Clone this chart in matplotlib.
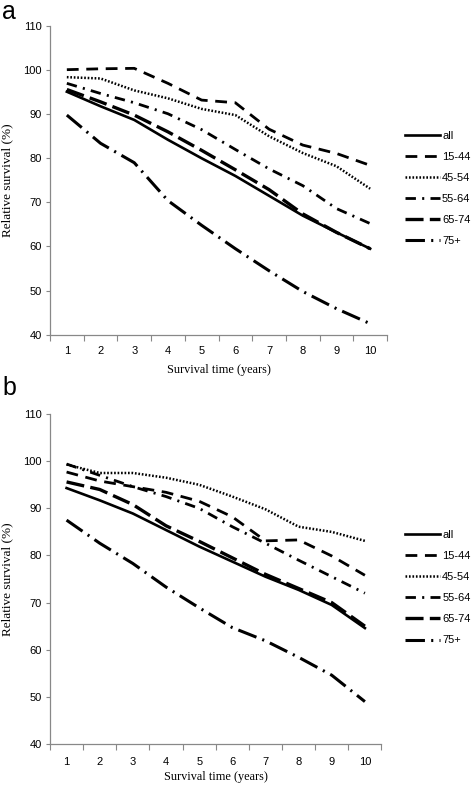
import numpy as np
import matplotlib
matplotlib.use('Agg')
import matplotlib.pyplot as plt

plt.rcParams['font.family'] = ['Liberation Sans', 'DejaVu Sans']
plt.rcParams['lines.scale_dashes'] = False

years = [1, 2, 3, 4, 5, 6, 7, 8, 9, 10]
groups = ['all', '15-44', '45-54', '55-64', '65-74', '75+']

# panel a
a_all = [95.1, 91.8, 88.7, 84.2, 80.0, 76.0, 71.5, 67.0, 63.2, 59.5]
a_15_44 = [100.1, 100.3, 100.4, 97.0, 93.2, 92.6, 86.6, 83.0, 81.1, 78.4]
a_45_54 = [98.4, 98.1, 95.4, 93.6, 91.2, 89.8, 85.0, 81.2, 78.2, 73.1]
a_55_64 = [97.0, 94.7, 92.6, 90.1, 86.5, 82.0, 77.6, 73.8, 68.6, 65.2]
a_65_74 = [95.6, 92.8, 89.8, 86.0, 81.8, 77.4, 72.9, 67.4, 63.2, 59.5]
a_75 = [89.8, 83.4, 79.0, 70.4, 64.8, 59.5, 54.5, 49.8, 45.9, 42.5]

# panel b
b_all = [94.3, 91.7, 88.9, 85.4, 81.9, 78.7, 75.5, 72.7, 69.5, 64.6]
b_15_44 = [97.7, 95.8, 94.6, 93.4, 91.5, 88.2, 83.1, 83.3, 79.9, 75.8]
b_45_54 = [99.3, 97.5, 97.5, 96.5, 95.0, 92.5, 89.8, 86.1, 85.0, 83.1]
b_55_64 = [99.4, 97.0, 94.6, 92.5, 90.0, 86.1, 82.6, 79.0, 75.5, 72.0]
b_65_74 = [95.6, 94.0, 90.8, 86.3, 83.0, 79.5, 76.0, 73.0, 70.0, 65.0]
b_75 = [87.5, 82.6, 78.3, 73.3, 68.9, 64.7, 61.9, 58.4, 54.6, 49.0]

styles = {
    'all': dict(ls='-', lw=1.9),
    '15-44': dict(ls=(0, (8.5, 5.5)), lw=2.0),
    '45-54': dict(ls=(0, (1.2, 1.3)), lw=1.8),
    '55-64': dict(ls=(0, (7.5, 4.5, 1.5, 4.5)), lw=2.0),
    '65-74': dict(ls=(0, (13, 4.5)), lw=2.4),
    '75+': dict(ls=(0, (14, 4.5, 1.5, 4.5)), lw=2.2),
}


def draw_panel(ax, series, leg_anchor, xpad, xlabelpad):
    for name, vals in zip(groups, series):
        ax.plot(years, vals, color='black', label=name, **styles[name])
    ax.set_xlim(0.5, 10.5)
    ax.set_ylim(40, 110)
    ax.set_yticks(range(40, 111, 10))
    ax.set_xticks(years)
    ax.set_xticks(np.arange(0.5, 11, 1), minor=True)
    ax.tick_params(axis='x', which='major', length=0, labelsize=8, pad=xpad)
    ax.tick_params(axis='x', which='minor', length=4, color='#888888', width=0.8)
    ax.tick_params(axis='y', length=3, color='#888888', width=0.8, labelsize=8, pad=3)
    for s in ['top', 'right']:
        ax.spines[s].set_visible(False)
    for s in ['left', 'bottom']:
        ax.spines[s].set_color('#888888')
        ax.spines[s].set_linewidth(0.9)
    ax.set_xlabel('Survival time (years)', family='Liberation Serif', fontsize=8.8,
                  labelpad=xlabelpad)
    ax.set_ylabel('Relative survival (%)', family='Liberation Serif', fontsize=9.5, labelpad=7)
    ax.legend(loc='center left', bbox_to_anchor=leg_anchor, frameon=False, fontsize=8,
              handlelength=3.15, handletextpad=0.2, labelspacing=1.0, borderpad=0,
              borderaxespad=0)


fig = plt.figure(figsize=(4.73, 7.86), dpi=100)
ax_a = fig.add_axes([0.1057, 0.5742, 0.7125, 0.3927])
ax_b = fig.add_axes([0.1057, 0.0534, 0.7008, 0.4198])

draw_panel(ax_a, [a_all, a_15_44, a_45_54, a_55_64, a_65_74, a_75], (1.053, 0.474), 8, 6)
draw_panel(ax_b, [b_all, b_15_44, b_45_54, b_55_64, b_65_74, b_75], (1.071, 0.474), 9, 3)

fig.text(0.005, 1.0, 'a', fontsize=18, va='top', ha='left')
fig.text(0.005, 1 - 376 / 786, 'b', fontsize=18, va='top', ha='left')

fig.savefig('out.png', dpi=100)
